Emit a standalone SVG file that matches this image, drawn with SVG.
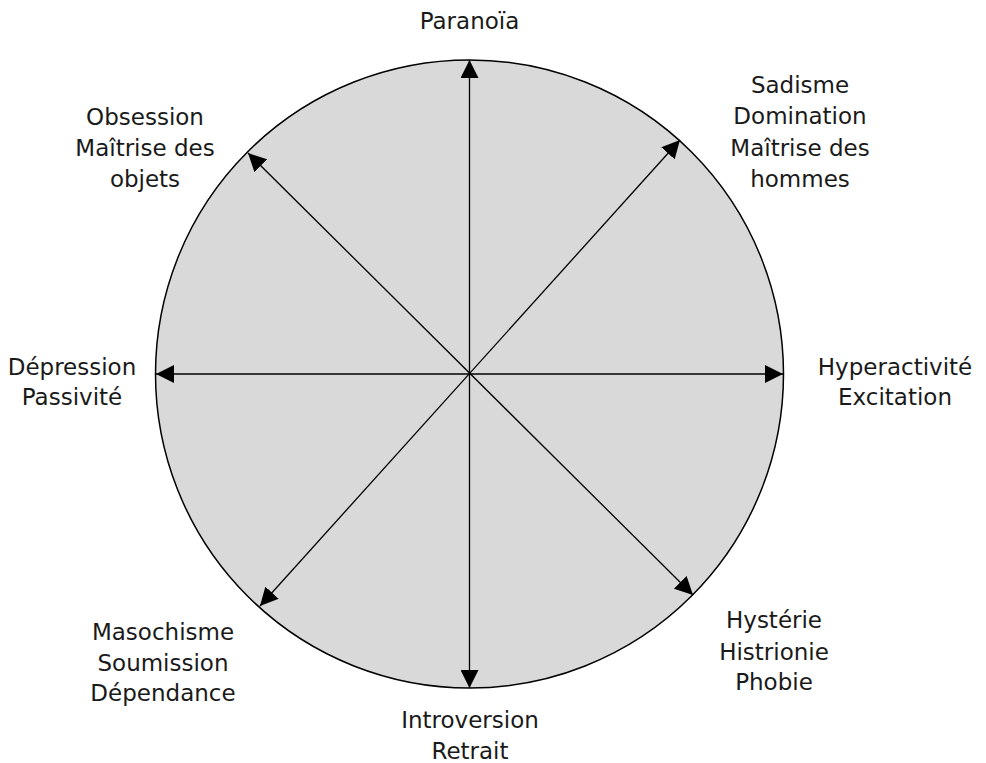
<svg xmlns="http://www.w3.org/2000/svg" width="986" height="763" viewBox="0 0 986 763">
<style>
.lbl{font-family:"DejaVu Sans","Liberation Sans",sans-serif;font-size:23px;fill:#1a1a1a;text-anchor:middle}
.ax{stroke:#000;stroke-width:1.3;fill:none;marker-start:url(#ah);marker-end:url(#ah)}
</style>
<defs>
<marker id="ah" markerUnits="userSpaceOnUse" markerWidth="18" markerHeight="18" refX="18" refY="9" orient="auto-start-reverse" viewBox="0 0 18 18">
<path d="M0,0 L18,9 L0,18 z" fill="#000"/>
</marker>
</defs>
<rect width="986" height="763" fill="#fff"/>
<g id="circle">
<circle cx="469.5" cy="374" r="314" fill="#d9d9d9" stroke="#000" stroke-width="1.5"/>
</g>
<g id="connectors">
<line class="ax" x1="469.5" y1="60" x2="469.5" y2="688"/>
<line class="ax" x1="156" y1="374" x2="783" y2="374"/>
<line class="ax" x1="680" y1="140" x2="260" y2="606"/>
<line class="ax" x1="248" y1="153" x2="693" y2="595"/>
</g>
<g id="n-paranoia"><text class="lbl" x="469.5" y="29">Paranoïa</text></g>
<g id="n-sadisme"><text class="lbl" x="800" y="93">Sadisme</text><text class="lbl" x="800" y="124">Domination</text><text class="lbl" x="800" y="156">Maîtrise des</text><text class="lbl" x="800" y="187">hommes</text></g>
<g id="n-obsession"><text class="lbl" x="145" y="125">Obsession</text><text class="lbl" x="145" y="156">Maîtrise des</text><text class="lbl" x="145" y="187">objets</text></g>
<g id="n-depression"><text class="lbl" x="72" y="375">Dépression</text><text class="lbl" x="72" y="405">Passivité</text></g>
<g id="n-hyperactivite"><text class="lbl" x="895" y="375">Hyperactivité</text><text class="lbl" x="895" y="405">Excitation</text></g>
<g id="n-introversion"><text class="lbl" x="470" y="728">Introversion</text><text class="lbl" x="470" y="759">Retrait</text></g>
<g id="n-masochisme"><text class="lbl" x="163" y="640">Masochisme</text><text class="lbl" x="163" y="671">Soumission</text><text class="lbl" x="163" y="701">Dépendance</text></g>
<g id="n-hysterie"><text class="lbl" x="774" y="628">Hystérie</text><text class="lbl" x="774" y="660">Histrionie</text><text class="lbl" x="774" y="690">Phobie</text></g>
</svg>
